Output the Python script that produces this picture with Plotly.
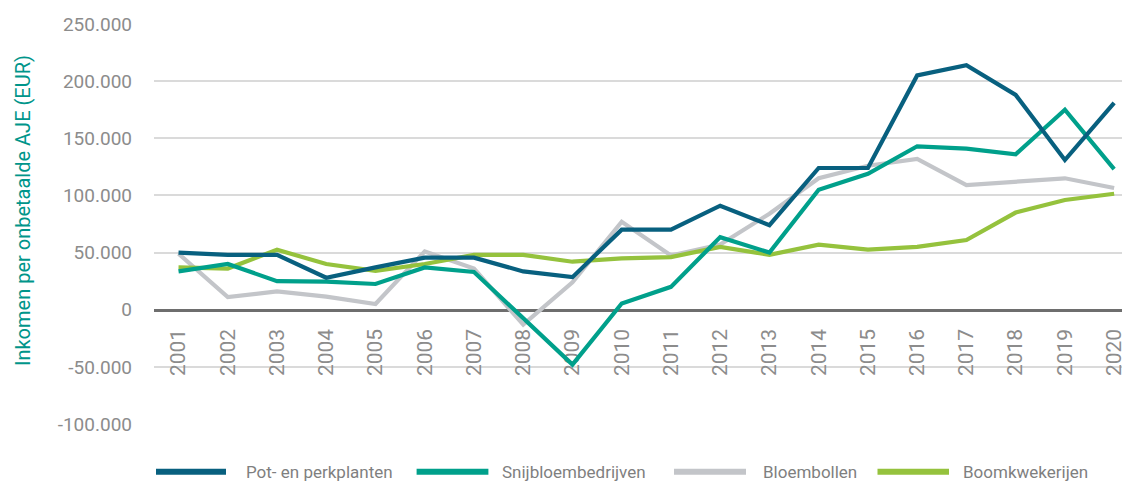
import plotly.graph_objects as go

years = list(range(2001, 2021))
series_names = ["Pot- en perkplanten", "Snijbloembedrijven", "Bloembollen", "Boomkwekerijen"]
pot = [50000, 48000, 48000, 28000, 37000, 45500, 45500, 33500, 28500, 70000,
       70000, 91000, 74000, 124000, 124000, 205000, 214000, 188000, 131000, 181000]
snij = [33500, 40000, 25000, 24500, 22500, 37000, 33000, -8000, -48000, 5500,
        20000, 63500, 50000, 105000, 119000, 143000, 141000, 136000, 175000, 123000]
bollen = [49000, 11000, 16000, 11500, 5000, 51000, 36000, -13000, 24000, 77000,
          47500, 57000, 84000, 115000, 126000, 132000, 109000, 112000, 115000, 106500]
boom = [37000, 36000, 52500, 40000, 34000, 40000, 48000, 48000, 42000, 45000,
        46000, 55000, 48000, 57000, 52500, 55000, 61000, 85000, 96000, 101500]
colors = ["#08607f", "#00a08b", "#c3c5c9", "#95c23d"]
y_tickvals = [-100000, -50000, 0, 50000, 100000, 150000, 200000, 250000]
y_ticktext = ["-100.000", "-50.000", "0", "50.000", "100.000", "150.000", "200.000", "250.000"]
x_ticktext = [str(y) for y in years]
y_title = "Inkomen per onbetaalde AJE (EUR)"

OFF = 8  # page body margin
W, H = 1130 - OFF, 482 - OFF
# plot area in viewport pixels: x 154..1130, y 24..424
ML, MT = 154 - OFF, 24 - OFF
MR = 0
MB = H - (424 - OFF)
PW = W - ML - MR
PH = H - MT - MB
YMIN, YMAX = -100000, 250000


def px_x(v):  # viewport px -> paper x
    return (v - OFF - ML) / PW


def px_y(v):  # viewport px -> paper y
    return (MT + PH - (v - OFF)) / PH


fig = go.Figure()
order = [2, 3, 1, 0]
for i in order:
    vals = [pot, snij, bollen, boom][i]
    fig.add_trace(go.Scatter(
        x=years, y=vals, mode="lines", name=series_names[i],
        line=dict(color=colors[i], width=4.2), showlegend=False,
    ))

font_family = "Roboto, sans-serif"
zero_frac = (0 - YMIN) / (YMAX - YMIN)

fig.update_layout(
    width=W, height=H,
    margin=dict(l=ML, r=MR, t=MT, b=MB, pad=0),
    paper_bgcolor="white", plot_bgcolor="white",
    font=dict(family=font_family, color="#8c8c8c"),
    xaxis=dict(
        type="linear", range=[2000.502, 2020.322],
        tickvals=years, ticktext=x_ticktext, tickangle=-90,
        tickfont=dict(size=21, color="#8c8c8c"),
        showgrid=False, zeroline=False,
        showline=True, linecolor="#6e6e6e", linewidth=2.5,
        anchor="free", position=zero_frac, ticks="", ticklabelstandoff=9,
        layer="below traces",
    ),
    yaxis=dict(
        range=[YMIN, YMAX], tickvals=y_tickvals, ticktext=y_ticktext,
        tickfont=dict(size=19, color="#8c8c8c"),
        showgrid=True, gridcolor="#dadada", gridwidth=2,
        zeroline=False, showline=False, ticks="", ticklabelstandoff=21,
        layer="below traces",
    ),
    showlegend=False,
)

fig.add_annotation(
    text=y_title, textangle=-90, xref="paper", yref="paper",
    x=px_x(23), y=px_y(211), xanchor="center", yanchor="middle",
    showarrow=False, font=dict(size=20, color="#00958a", family=font_family),
)

leg_line_x = [(154, 228), (414.6, 490.4), (672, 748), (875.5, 951)]
leg_text_x = [244, 500, 760.6, 960.7]
leg_y = 471.7
for i in range(4):
    x0, x1 = leg_line_x[i]
    fig.add_shape(
        type="line", xref="paper", yref="paper",
        x0=px_x(x0 + 2), x1=px_x(x1 - 2),
        y0=px_y(leg_y), y1=px_y(leg_y),
        line=dict(color=colors[i], width=6),
    )
    fig.add_annotation(
        text=series_names[i], xref="paper", yref="paper",
        x=px_x(leg_text_x[i]), y=px_y(leg_y),
        xanchor="left", yanchor="middle", showarrow=False,
        font=dict(size=17, color="#7f7f7f", family=font_family),
    )

fig.write_html("out.html")
